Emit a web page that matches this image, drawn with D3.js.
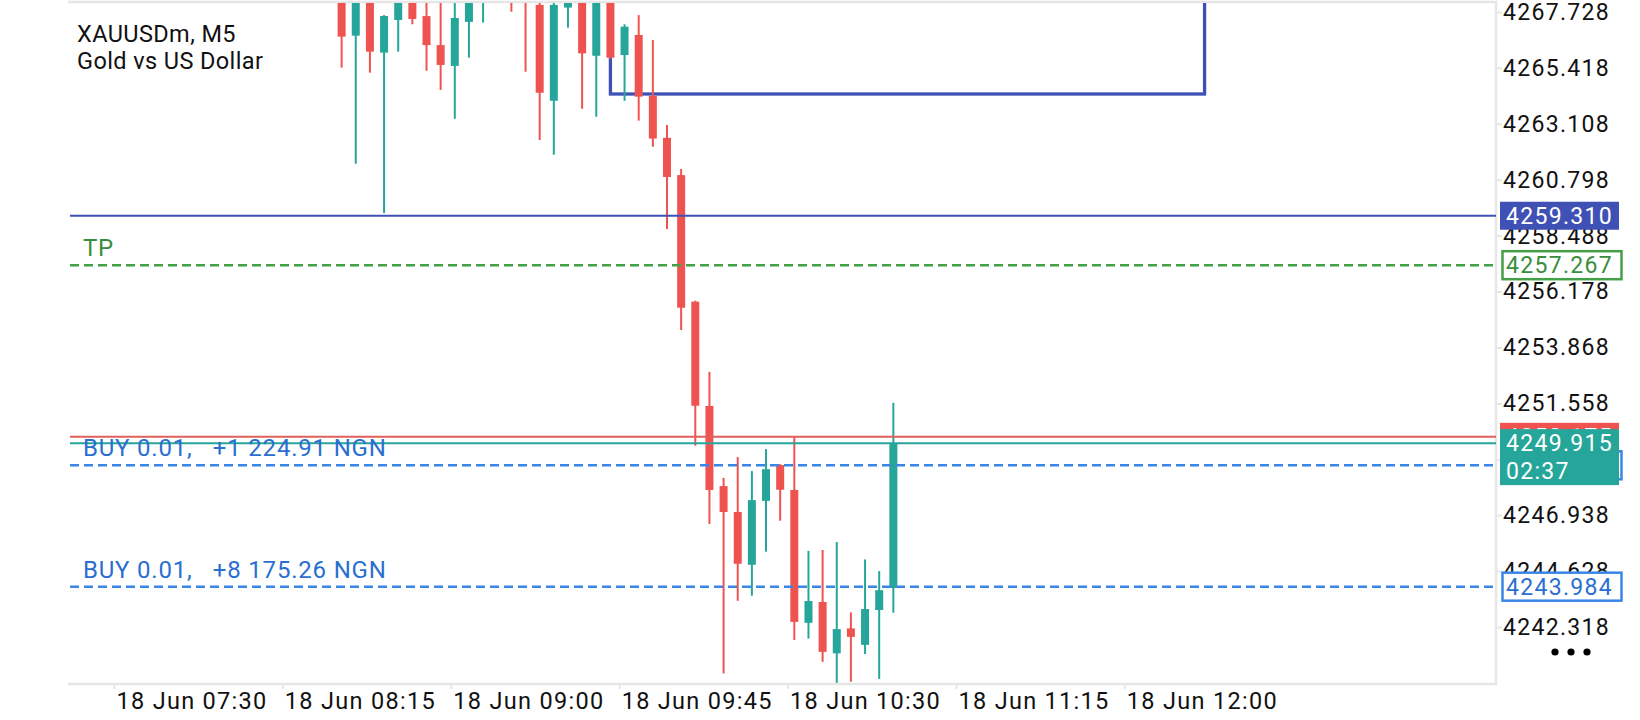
<!DOCTYPE html>
<html>
<head>
<meta charset="utf-8">
<script src="https://cdn.jsdelivr.net/npm/d3@7"></script>
<style>
	html, body { margin: 0; padding: 0; background: #fff; }
	svg { display: block; font-family: Roboto, "Noto Sans", sans-serif; }
</style>
</head>
<body>
<svg id="chart" width="1640" height="720"></svg>
<script>
// candles, one per bar slot (M5)
const opens  = [4268.60, 4266.75, 4268.50, 4266.05, 4267.40, 4268.50, 4267.56, 4266.36, 4265.50, 4267.32,
	4268.50, 4269.80, 4269.60, 4269.00, 4268.02, 4264.06, 4267.91, 4268.60, 4265.92, 4268.40,
	4265.95, 4266.78, 4264.26, 4262.53, 4260.99, 4255.76, 4251.45, 4248.14, 4247.07, 4244.89,
	4247.53, 4249.01, 4247.98, 4242.49, 4243.35, 4241.23, 4242.26, 4241.58, 4243.02, 4243.93]
const highs  = [4269.20, 4269.00, 4268.90, 4267.60, 4268.70, 4268.80, 4268.40, 4268.30, 4268.40, 4268.90,
	4269.60, 4270.30, 4270.00, 4269.40, 4268.50, 4268.40, 4269.00, 4268.90, 4268.70, 4268.60,
	4267.22, 4267.60, 4266.57, 4263.06, 4261.24, 4255.80, 4252.86, 4248.48, 4249.34, 4248.76,
	4249.67, 4249.05, 4250.21, 4245.46, 4245.50, 4245.83, 4242.92, 4245.11, 4244.63, 4251.58]
const lows   = [4265.43, 4261.46, 4265.22, 4259.42, 4266.09, 4267.22, 4265.30, 4264.51, 4263.32, 4265.84,
	4267.29, 4268.40, 4267.74, 4265.26, 4262.44, 4261.83, 4267.08, 4263.73, 4263.40, 4265.80,
	4264.06, 4263.24, 4262.16, 4258.76, 4254.59, 4249.81, 4246.57, 4240.40, 4243.40, 4243.61,
	4245.43, 4246.71, 4241.78, 4241.84, 4240.88, 4240.01, 4240.06, 4241.20, 4240.17, 4242.91]
const closes = [4266.71, 4268.60, 4266.09, 4267.56, 4268.40, 4267.44, 4266.36, 4265.54, 4267.48, 4268.50,
	4269.20, 4269.30, 4268.80, 4268.30, 4264.39, 4268.02, 4268.60, 4266.02, 4268.40, 4265.84,
	4267.12, 4264.23, 4262.50, 4260.91, 4255.51, 4251.46, 4247.98, 4247.07, 4244.93, 4247.56,
	4248.84, 4247.99, 4242.53, 4243.39, 4241.29, 4242.23, 4241.91, 4243.06, 4243.84, 4249.915]

const priceTicks = [4267.728, 4265.418, 4263.108, 4260.798, 4258.488, 4256.178, 4253.868,
	4251.558, 4249.248, 4246.938, 4244.628, 4242.318]
const timeLabels = ["18 Jun 07:30", "18 Jun 08:15", "18 Jun 09:00", "18 Jun 09:45",
	"18 Jun 10:30", "18 Jun 11:15", "18 Jun 12:00"]
const timeSlots = [-16.09, -4.19, 7.72, 19.62, 31.52, 43.43, 55.33]

const lastPrice = 4259.310
const tpPrice = 4257.267
const askPrice = 4250.175
const bidPrice = 4249.915
const timer = "02:37"
const buyPrices = [4249.00, 4243.984]
const buyTexts = ["BUY 0.01,   +1 224.91 NGN", "BUY 0.01,   +8 175.26 NGN"]
// rectangle object: slots and prices
const boxSlots = [19, 61]
const boxPrices = [4264.34, 4271.5]

const RED = "#ef5350", TEAL = "#26a69a", INDIGO = "#3f51b5"
const GREEN = "#43a047", BLUE = "#3a86e6", BLUE_TEXT = "#2a6fcf", GRID = "#e6e6e6"

const plot = { left: 70, right: 1496, top: 3, bottom: 684 }

const svg = d3.select("#chart")
const x = d3.scaleLinear().domain([-19.2, 81.6]).range([plot.left, plot.right])
const y = d3.scaleLinear().domain([4242.318, 4267.728]).range([627, 12])

svg.append("defs").append("clipPath").attr("id", "clip")
	.append("rect")
	.attr("x", plot.left).attr("y", plot.top)
	.attr("width", plot.right - plot.left).attr("height", plot.bottom - plot.top)

// frame
svg.append("path")
	.attr("d", `M${plot.left - 2},${plot.top - 1}H${plot.right}V${plot.bottom}H${plot.left - 2}`)
	.attr("fill", "none").attr("stroke", GRID).attr("stroke-width", 2.5)

const chart = svg.append("g").attr("clip-path", "url(#clip)")

// rectangle object
chart.append("rect")
	.attr("x", x(boxSlots[0])).attr("y", y(boxPrices[1]))
	.attr("width", x(boxSlots[1]) - x(boxSlots[0]))
	.attr("height", y(boxPrices[0]) - y(boxPrices[1]))
	.attr("fill", "none").attr("stroke", INDIGO).attr("stroke-width", 3.3)

// candles
const bars = d3.range(opens.length).map(i => ({ i, o: opens[i], h: highs[i], l: lows[i], c: closes[i] }))
const bodyW = 8
const candle = chart.selectAll(".candle").data(bars).enter().append("g")
	.attr("fill", d => d.c >= d.o ? TEAL : RED)
	.attr("stroke", d => d.c >= d.o ? TEAL : RED)
candle.append("line")
	.attr("x1", d => x(d.i)).attr("x2", d => x(d.i))
	.attr("y1", d => y(d.h)).attr("y2", d => y(d.l))
	.attr("stroke-width", 2)
candle.append("rect")
	.attr("stroke", "none")
	.attr("x", d => x(d.i) - bodyW / 2)
	.attr("width", bodyW)
	.attr("y", d => y(Math.max(d.o, d.c)))
	.attr("height", d => Math.max(1, Math.abs(y(d.o) - y(d.c))))

// price lines
function hline(price, color, width, dash) {
	chart.append("line")
		.attr("x1", plot.left).attr("x2", plot.right)
		.attr("y1", y(price)).attr("y2", y(price))
		.attr("stroke", color).attr("stroke-width", width)
		.attr("stroke-dasharray", dash || null)
}
hline(lastPrice, INDIGO, 2)
hline(tpPrice, GREEN, 2.6, "9,5")
buyPrices.forEach(p => hline(p, BLUE, 2.6, "9,5"))
hline(askPrice, "#e0615c", 2)
hline(bidPrice, TEAL, 2)

// chart labels
const label = svg.append("g")
label.append("text").attr("x", 77).attr("y", 42).attr("fill", "#111")
	.attr("font-size", 23.5).attr("letter-spacing", 0.4).text("XAUUSDm, M5")
label.append("text").attr("x", 77).attr("y", 69).attr("fill", "#111")
	.attr("font-size", 23.5).attr("letter-spacing", 0.4).text("Gold vs US Dollar")
label.append("text").attr("x", 83).attr("y", y(tpPrice) - 9).attr("fill", "#388e3c")
	.attr("font-size", 24).attr("letter-spacing", 0.8).text("TP")
buyPrices.forEach((p, k) => {
	label.append("text").attr("x", 83).attr("y", y(p) - 9)
		.attr("font-size", 24).attr("letter-spacing", 0.8)
		.attr("fill", BLUE_TEXT).style("white-space", "pre").text(buyTexts[k])
})

// price axis
const yAxis = svg.append("g")
	.attr("transform", `translate(${plot.right},0)`)
	.call(d3.axisRight(y).tickValues(priceTicks).tickFormat(d3.format(".3f")).tickSize(6).tickPadding(1))
yAxis.select(".domain").remove()
yAxis.selectAll(".tick line").attr("stroke", GRID).attr("stroke-width", 2)
yAxis.selectAll(".tick text").attr("fill", "#111").attr("font-size", 23)
	.attr("font-family", "Roboto").attr("letter-spacing", 1.3)

// time axis
const xAxis = svg.append("g")
	.attr("transform", `translate(0,${plot.bottom})`)
	.call(d3.axisBottom(x).tickValues(timeSlots).tickFormat((d, i) => timeLabels[i]).tickSize(5))
xAxis.select(".domain").remove()
xAxis.selectAll(".tick line").attr("stroke", GRID).attr("stroke-width", 2)
xAxis.selectAll(".tick text").attr("fill", "#111").attr("font-size", 23.5)
	.attr("font-family", "Roboto").attr("letter-spacing", 1.3)
	.attr("text-anchor", "start").attr("x", 2).attr("y", 25).attr("dy", 0)

// price tags on the axis
const tags = svg.append("g").attr("font-size", 23).attr("letter-spacing", 1.3)
function tag(price, opts) {
	const cy = y(price)
	const h = opts.h || 28
	tags.append("rect")
		.attr("x", opts.x || 1500).attr("y", cy - (opts.top || h / 2))
		.attr("width", opts.w || 119).attr("height", h)
		.attr("fill", opts.fill).attr("stroke", opts.stroke || "none").attr("stroke-width", 2.5)
	opts.lines.forEach((t, k) => {
		tags.append("text").attr("x", 1506).attr("y", cy - (opts.top || h / 2) + 22 + k * 27.5)
			.attr("fill", opts.color).text(t)
	})
}
buyPrices.forEach(p => tag(p, { x: 1502.5, w: 119, fill: "#fff", stroke: BLUE, color: BLUE_TEXT, lines: [p.toFixed(3)] }))
tag(tpPrice, { x: 1502.5, w: 119, fill: "#fff", stroke: GREEN, color: "#388e3c", lines: [tpPrice.toFixed(3)] })
tag(lastPrice, { fill: INDIGO, color: "#fff", lines: [lastPrice.toFixed(3)] })
tag(askPrice, { fill: RED, color: "#fff", lines: [askPrice.toFixed(3)] })
tag(bidPrice, { fill: TEAL, color: "#fff", h: 56, top: 14, lines: [bidPrice.toFixed(3), timer] })

// menu dots
svg.append("g").selectAll("circle").data([0, 1, 2]).enter().append("circle")
	.attr("cx", d => 1555 + d * 16).attr("cy", 652).attr("r", 3.6).attr("fill", "#000")
</script>
</body>
</html>
